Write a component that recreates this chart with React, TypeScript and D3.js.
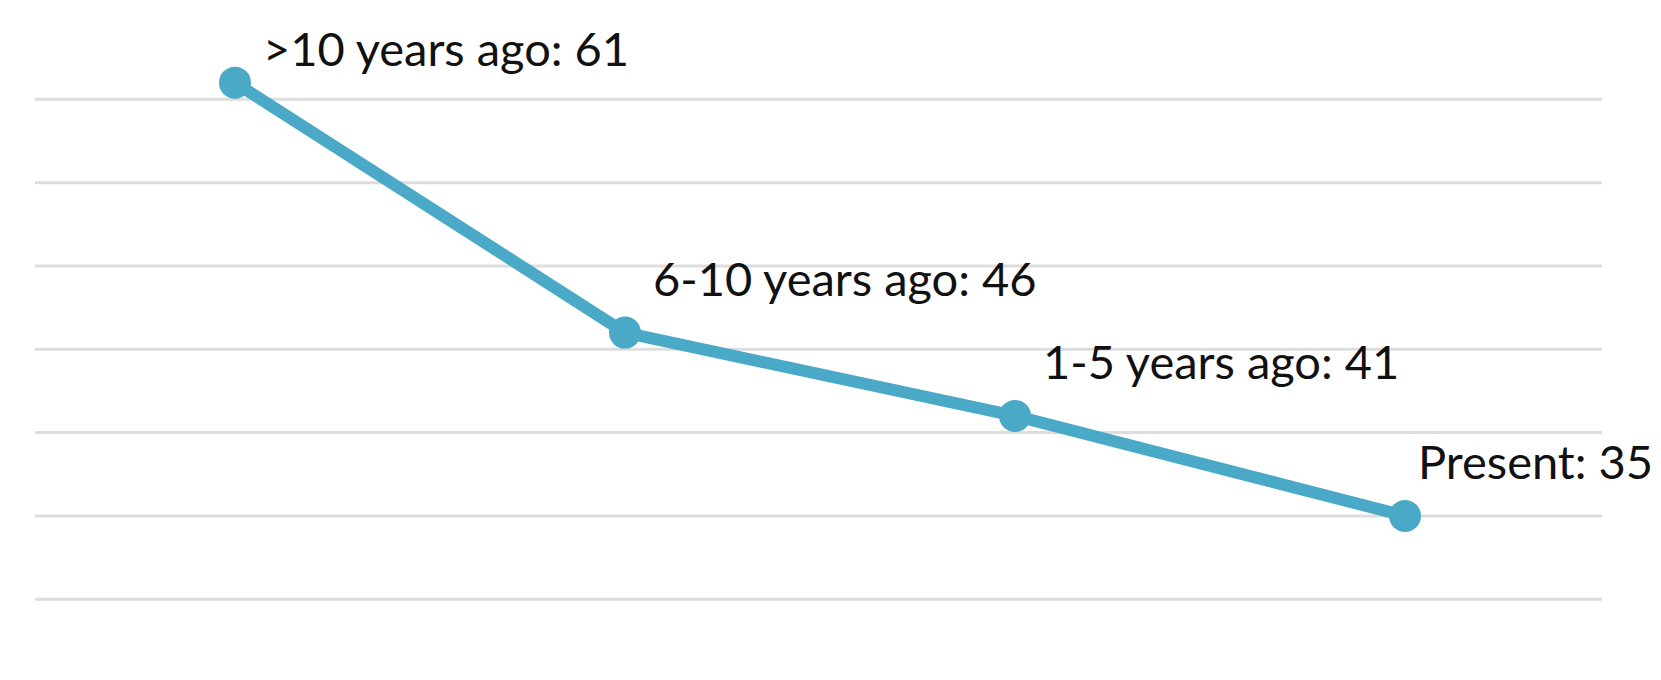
import * as d3 from "d3";
import { useEffect, useRef } from "react";

// categories and values
const categories = [">10 years ago", "6-10 years ago", "1-5 years ago", "Present"];
const values = [61, 46, 41, 35];
const gridValues = [25, 30, 35, 40, 45, 50, 55, 60];

export default function App() {
  const ref = useRef<SVGSVGElement>(null);

  useEffect(() => {
    const width = 1661;
    const height = 680;
    const fontSize = 47;

    const svg = d3.select(ref.current)
      .attr("width", width)
      .attr("height", height)
      .style("font-family", "Lato, sans-serif");
    svg.selectAll("*").remove();

    const x = d3.scalePoint<string>().domain(categories).range([40, 1600]).padding(0.5);
    const y = d3.scaleLinear().domain([25, 65]).range([682.5, 16]);

    // horizontal gridlines
    svg.append("g")
      .selectAll("line")
      .data(gridValues)
      .join("line")
      .attr("x1", 35)
      .attr("x2", 1602)
      .attr("y1", d => y(d))
      .attr("y2", d => y(d))
      .attr("stroke", "#dddddd")
      .attr("stroke-width", 3);

    const pts = categories.map((c, i) => ({ c, v: values[i] }));

    const line = d3.line<{ c: string; v: number }>()
      .x(d => x(d.c)!)
      .y(d => y(d.v));

    svg.append("path")
      .datum(pts)
      .attr("d", line)
      .attr("fill", "none")
      .attr("stroke", "#49a9c6")
      .attr("stroke-width", 12)
      .attr("stroke-linejoin", "round");

    svg.append("g")
      .selectAll("circle")
      .data(pts)
      .join("circle")
      .attr("cx", d => x(d.c)!)
      .attr("cy", d => y(d.v))
      .attr("r", 16)
      .attr("fill", "#49a9c6");

    // labels: above-right of each point, kept inside the frame
    const labels = svg.append("g")
      .selectAll("text")
      .data(pts)
      .join("text")
      .attr("font-size", fontSize)
      .attr("fill", "#111")
      .text(d => `${d.c}: ${d.v}`);

    labels.each(function (d) {
      const t = this as SVGTextElement;
      const w = t.getComputedTextLength();
      const lx = Math.min(x(d.c)! + 28, width - 8 - w);
      const ly = Math.max(y(d.v) - 37, 66);
      d3.select(t).attr("x", lx).attr("y", ly);
    });
  }, []);

  return (
    <div style={{ position: "absolute", left: 0, top: 0, background: "#fff" }}>
      <svg ref={ref}></svg>
    </div>
  );
}
